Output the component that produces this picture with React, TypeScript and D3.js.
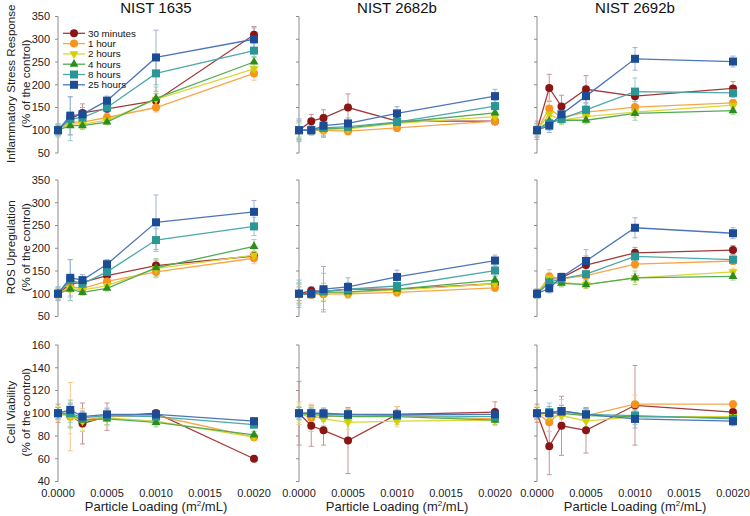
import React from "react";
import * as d3 from "d3";

// particle loading (m2/mL) used in every panel
const loadings = [0, 0.000125, 0.00025, 0.0005, 0.001, 0.002];
const xTicks = [0, 0.0005, 0.001, 0.0015, 0.002];
const timeLabels = ["30 minutes", "1 hour", "2 hours", "4 hours", "8 hours", "25 hours"];
const sampleNames = ["NIST 1635", "NIST 2682b", "NIST 2692b"];
const rowTitles = [
  ["Inflammatory Stress Response", "(% of the control)"],
  ["ROS Upregulation", "(% of the control)"],
  ["Cell Viability", "(% of the control)"],
];
const stressTicks = [50, 100, 150, 200, 250, 300, 350];
const viabilityTicks = [40, 60, 80, 100, 120, 140, 160];

// Inflammatory stress response, one row per time point
const inflam1635 = [
  [100, 125, 138, 147, 165, 310],
  [100, 118, 118, 128, 150, 225],
  [100, 115, 113, 122, 168, 235],
  [100, 110, 110, 118, 170, 250],
  [100, 125, 128, 150, 225, 275],
  [100, 132, 135, 165, 260, 300],
];
const inflam1635Err = [
  [12, 15, 20, 10, 15, 18],
  [10, 12, 10, 8, 10, 15],
  [10, 25, 8, 8, 20, 15],
  [12, 20, 8, 6, 25, 12],
  [15, 48, 12, 10, 40, 15],
  [10, 42, 15, 10, 60, 25],
];
const inflam2682b = [
  [100, 120, 127, 150, 120, 120],
  [100, 100, 100, 98, 105, 120],
  [100, 100, 102, 103, 115, 130],
  [100, 100, 103, 105, 117, 138],
  [100, 100, 105, 108, 118, 153],
  [100, 100, 110, 115, 137, 175],
];
const inflam2682bErr = [
  [20, 15, 18, 30, 8, 8],
  [15, 8, 10, 8, 8, 8],
  [15, 8, 10, 8, 8, 8],
  [18, 10, 15, 8, 8, 10],
  [22, 10, 20, 10, 10, 12],
  [25, 10, 25, 12, 15, 15],
];
const inflam2692b = [
  [100, 193, 152, 190, 175, 192],
  [100, 148, 128, 140, 151, 160],
  [100, 135, 122, 130, 140, 155],
  [100, 120, 122, 122, 137, 143],
  [100, 115, 125, 145, 185, 182],
  [100, 110, 135, 175, 257, 251],
];
const inflam2692bErr = [
  [20, 30, 25, 30, 12, 15],
  [15, 18, 10, 10, 12, 8],
  [12, 12, 10, 10, 12, 8],
  [10, 10, 8, 8, 15, 8],
  [15, 15, 10, 15, 30, 10],
  [15, 15, 15, 20, 25, 12],
];

// ROS upregulation
const ros1635 = [
  [100, 122, 125, 140, 162, 183],
  [100, 115, 112, 127, 148, 178],
  [100, 112, 108, 118, 155, 185],
  [100, 110, 103, 112, 157, 204],
  [100, 130, 122, 148, 218, 248],
  [100, 135, 130, 165, 257, 280],
];
const ros1635Err = [
  [10, 12, 10, 8, 12, 10],
  [10, 12, 8, 8, 12, 12],
  [12, 20, 8, 8, 20, 12],
  [12, 25, 6, 6, 20, 15],
  [15, 45, 10, 10, 25, 20],
  [15, 40, 12, 10, 60, 25],
];
const ros2682b = [
  [100, 107, 105, 110, 110, 122],
  [100, 98, 99, 100, 103, 113],
  [100, 100, 101, 103, 108, 122],
  [100, 100, 103, 104, 110, 130],
  [100, 100, 105, 110, 117, 151],
  [100, 100, 110, 115, 137, 173],
];
const ros2682bErr = [
  [15, 8, 10, 8, 8, 8],
  [20, 8, 15, 10, 8, 8],
  [20, 8, 15, 10, 8, 8],
  [22, 10, 20, 12, 10, 8],
  [25, 10, 40, 15, 12, 12],
  [30, 10, 50, 20, 15, 12],
];
const ros2692b = [
  [100, 135, 135, 163, 190, 196],
  [100, 138, 133, 140, 165, 172],
  [100, 135, 125, 120, 135, 148],
  [100, 125, 123, 120, 135, 138],
  [100, 125, 133, 143, 182, 175],
  [100, 112, 137, 172, 245, 233],
];
const ros2692bErr = [
  [10, 10, 8, 20, 12, 10],
  [10, 15, 8, 12, 10, 8],
  [8, 10, 8, 8, 10, 8],
  [8, 10, 8, 8, 15, 8],
  [10, 10, 8, 12, 15, 10],
  [10, 10, 8, 25, 22, 12],
];

// Cell viability
const via1635 = [
  [100, 98, 91, 97, 100, 60],
  [100, 97, 94, 97, 98, 79],
  [100, 97, 93, 96, 93, 79],
  [100, 99, 94, 95, 92, 81],
  [100, 100, 96, 98, 97, 90],
  [100, 103, 97, 99, 99, 93],
];
const via1635Err = [
  [8, 10, 18, 12, 3, 2],
  [6, 30, 10, 8, 5, 3],
  [6, 15, 8, 6, 4, 3],
  [5, 12, 6, 5, 4, 3],
  [5, 8, 5, 5, 4, 3],
  [5, 6, 5, 5, 4, 3],
];
const via2682b = [
  [100, 89, 85, 76, 99, 101],
  [100, 96, 97, 98, 98, 95],
  [100, 98, 95, 92, 93, 94],
  [100, 99, 98, 97, 97, 94],
  [100, 100, 99, 99, 98, 97],
  [100, 100, 100, 99, 99, 99],
];
const via2682bErr = [
  [28, 18, 13, 29, 7, 9],
  [10, 12, 8, 6, 8, 5],
  [8, 8, 6, 6, 5, 5],
  [6, 6, 5, 5, 4, 4],
  [5, 5, 4, 4, 4, 4],
  [5, 4, 4, 4, 4, 4],
];
const via2692b = [
  [100, 71, 89, 85, 107, 101],
  [100, 92, 102, 98, 108, 108],
  [100, 97, 98, 93, 97, 97],
  [100, 100, 100, 98, 97, 96],
  [100, 101, 102, 99, 98, 95],
  [100, 100, 102, 99, 95, 93],
];
const via2692bErr = [
  [8, 25, 26, 20, 35, 9],
  [6, 8, 10, 6, 8, 3],
  [6, 6, 6, 6, 5, 4],
  [5, 6, 5, 5, 5, 4],
  [5, 8, 5, 5, 8, 4],
  [5, 6, 5, 5, 8, 4],
];

const panels = [
  [[inflam1635, inflam1635Err], [inflam2682b, inflam2682bErr], [inflam2692b, inflam2692bErr]],
  [[ros1635, ros1635Err], [ros2682b, ros2682bErr], [ros2692b, ros2692bErr]],
  [[via1635, via1635Err], [via2682b, via2682bErr], [via2692b, via2692bErr]],
];

const seriesStyle = [
  { fill: "#8B1414", line: "#A33A3A", err: "#C99494", shape: "circle" },
  { fill: "#F7941D", line: "#F9A54A", err: "#F6C68E", shape: "circle" },
  { fill: "#D2D200", line: "#D8D83A", err: "#E2E294", shape: "triDown" },
  { fill: "#2C8C1C", line: "#55AA55", err: "#A2CFA2", shape: "triUp" },
  { fill: "#2A9696", line: "#4DA9A9", err: "#9ACCCC", shape: "square" },
  { fill: "#1C4C96", line: "#4C75BA", err: "#9DB2D6", shape: "square" },
];

const colX = [58, 299, 537];
const panelW = 196;
const rowY = [16.5, 180, 345];
const panelH = 136.5;
const font = "'Liberation Sans', Arial, sans-serif";

const triUp = d3.symbol().type(d3.symbolTriangle).size(34)();
const triDown = d3.symbol().type(d3.symbolTriangle).size(34)();

function Marker({ shape, x, y, color }) {
  if (shape === "circle") return <circle cx={x} cy={y} r={4} fill={color} />;
  if (shape === "square") return <rect x={x - 4} y={y - 4} width={8} height={8} fill={color} />;
  if (shape === "triUp") return <path d={triUp} transform={`translate(${x},${y})`} fill={color} />;
  return <path d={triDown} transform={`translate(${x},${y}) rotate(180)`} fill={color} />;
}

function Panel({ row, col }) {
  const [values, errs] = panels[row][col];
  const left = colX[col];
  const top = rowY[row];
  const ticks = row === 2 ? viabilityTicks : stressTicks;
  const x = d3.scaleLinear().domain([0, 0.002]).range([left, left + panelW]);
  const y = d3
    .scaleLinear()
    .domain(d3.extent(ticks))
    .range([top + panelH, top]);
  const line = d3
    .line<number>()
    .x((d, i) => x(loadings[i]))
    .y((d) => y(d));

  return (
    <g>
      <line x1={left} x2={left} y1={y(ticks[0])} y2={y(ticks[ticks.length - 1])} stroke="#8c8c8c" strokeWidth={1} />
      {ticks.map((t) => (
        <g key={t}>
          <line x1={left - 3} x2={left} y1={y(t)} y2={y(t)} stroke="#8c8c8c" />
          {col === 0 && (
            <text x={left - 8} y={y(t)} dy="0.35em" textAnchor="end" fontSize={11} fill="#222">
              {t}
            </text>
          )}
        </g>
      ))}
      {row === 2 &&
        xTicks.map((t) => (
          <text key={t} x={x(t)} y={497} textAnchor="middle" fontSize={11} fill="#222">
            {d3.format(".4f")(t)}
          </text>
        ))}
      {values.map((s, si) => (
        <g key={"e" + si}>
          {s.map((v, i) => (
            <g key={i} stroke={seriesStyle[si].err} strokeWidth={1}>
              <line x1={x(loadings[i])} x2={x(loadings[i])} y1={y(v - errs[si][i])} y2={y(v + errs[si][i])} />
              <line x1={x(loadings[i]) - 2.5} x2={x(loadings[i]) + 2.5} y1={y(v - errs[si][i])} y2={y(v - errs[si][i])} />
              <line x1={x(loadings[i]) - 2.5} x2={x(loadings[i]) + 2.5} y1={y(v + errs[si][i])} y2={y(v + errs[si][i])} />
            </g>
          ))}
        </g>
      ))}
      {values.map((s, si) => (
        <g key={"s" + si}>
          <path d={line(s)} fill="none" stroke={seriesStyle[si].line} strokeWidth={1.3} />
          {s.map((v, i) => (
            <Marker key={i} shape={seriesStyle[si].shape} x={x(loadings[i])} y={y(v)} color={seriesStyle[si].fill} />
          ))}
        </g>
      ))}
    </g>
  );
}

export default function App() {
  const legendY = d3.range(timeLabels.length).map((i) => 33.3 + i * 10.3);
  return (
    <svg
      width={750}
      height={516}
      style={{ position: "absolute", left: 0, top: 0, background: "#fff" }}
      fontFamily={font}
    >
      <rect width={750} height={516} fill="#fff" />
      {sampleNames.map((n, c) => (
        <text key={n} x={colX[c] + panelW / 2} y={13} textAnchor="middle" fontSize={15} fill="#111">
          {n}
        </text>
      ))}
      {rowTitles.map((t, r) => {
        const cy = rowY[r] + panelH / 2 - 1;
        return (
          <g key={r} fontSize={11.6} fill="#222" textAnchor="middle">
            <text transform={`translate(14.5,${cy}) rotate(-90)`}>{t[0]}</text>
            <text transform={`translate(29.5,${cy}) rotate(-90)`}>{t[1]}</text>
          </g>
        );
      })}
      {[0, 1, 2].map((r) => [0, 1, 2].map((c) => <Panel key={r + "-" + c} row={r} col={c} />))}
      {[0, 1, 2].map((c) => (
        <text key={c} x={colX[c] + panelW / 2} y={511} textAnchor="middle" fontSize={13} fill="#222">
          Particle Loading (m<tspan dy={-5} fontSize={8}>2</tspan>
          <tspan dy={5}>/mL)</tspan>
        </text>
      ))}
      <g>
        {timeLabels.map((lab, i) => (
          <g key={lab}>
            <line x1={63} x2={85} y1={legendY[i]} y2={legendY[i]} stroke={seriesStyle[i].line} strokeWidth={1.3} />
            <Marker shape={seriesStyle[i].shape} x={74} y={legendY[i]} color={seriesStyle[i].fill} />
            <text x={88} y={legendY[i]} dy="0.35em" fontSize={9.8} fill="#111">
              {lab}
            </text>
          </g>
        ))}
      </g>
    </svg>
  );
}
